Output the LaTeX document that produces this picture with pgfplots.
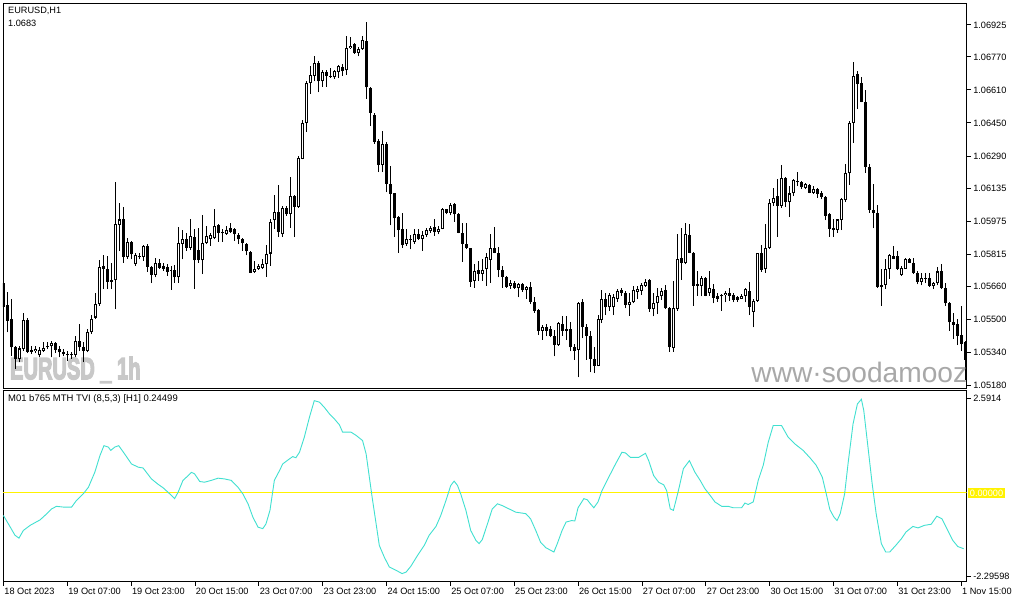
\documentclass[border=0pt]{standalone}
\usepackage{pgfplots}
\pgfplotsset{compat=1.18}
\usepackage{pgfplotstable}
\usepackage{fontspec}
\setmainfont{Liberation Sans}
\newfontfamily\wmfont{Liberation Sans}[UprightFont=*-Bold, UprightFeatures={FakeBold=5}]
\definecolor{tvi}{RGB}{64,224,208}
\definecolor{wm}{RGB}{200,200,200}
\definecolor{wmb}{RGB}{168,168,168}
\newcommand{\lbl}{\fontsize{9.2}{11}\selectfont}

\pgfplotstableread{
x o h l c
0 1.05676 1.05738 1.05483 1.05556
1 1.05567 1.05633 1.05435 1.05491
2 1.05499 1.05596 1.05322 1.05362
3 1.05362 1.05370 1.05257 1.05306
4 1.05306 1.05370 1.05290 1.05357
5 1.05354 1.05528 1.05346 1.05494
6 1.05494 1.05507 1.05335 1.05341
7 1.05351 1.05370 1.05330 1.05341
8 1.05343 1.05367 1.05335 1.05354
9 1.05325 1.05362 1.05314 1.05351
10 1.05346 1.05390 1.05341 1.05361
11 1.05362 1.05386 1.05354 1.05370
12 1.05367 1.05394 1.05314 1.05383
13 1.05383 1.05390 1.05335 1.05351
14 1.05354 1.05370 1.05314 1.05338
15 1.05338 1.05354 1.05319 1.05328
16 1.05325 1.05345 1.05298 1.05330
17 1.05325 1.05338 1.05306 1.05328
18 1.05325 1.05415 1.05314 1.05393
19 1.05393 1.05475 1.05346 1.05362
20 1.05362 1.05386 1.05290 1.05346
21 1.05346 1.05451 1.05338 1.05435
22 1.05435 1.05518 1.05427 1.05502
23 1.05507 1.05628 1.05499 1.05572
24 1.05572 1.05786 1.05564 1.05754
25 1.05757 1.05808 1.05647 1.05744
26 1.05744 1.05805 1.05644 1.05680
27 1.05688 1.05773 1.05644 1.05680
28 1.05688 1.06163 1.05547 1.05958
29 1.05957 1.06063 1.05829 1.05982
30 1.05982 1.06044 1.05773 1.05800
31 1.05800 1.05894 1.05792 1.05875
32 1.05873 1.05878 1.05789 1.05813
33 1.05768 1.05821 1.05757 1.05812
34 1.05802 1.05821 1.05789 1.05805
35 1.05802 1.05857 1.05781 1.05854
36 1.05854 1.05862 1.05728 1.05754
37 1.05752 1.05757 1.05673 1.05715
38 1.05715 1.05797 1.05701 1.05773
39 1.05773 1.05792 1.05741 1.05749
40 1.05757 1.05773 1.05733 1.05744
41 1.05752 1.05765 1.05709 1.05728
42 1.05733 1.05757 1.05641 1.05736
43 1.05738 1.05760 1.05676 1.05701
44 1.05701 1.05947 1.05676 1.05870
45 1.05865 1.05929 1.05789 1.05889
46 1.05889 1.05918 1.05830 1.05846
47 1.05846 1.05982 1.05834 1.05902
48 1.05899 1.05934 1.05647 1.05784
49 1.05834 1.05942 1.05773 1.05784
50 1.05784 1.06002 1.05717 1.05870
51 1.05870 1.05950 1.05862 1.05902
52 1.05886 1.05918 1.05854 1.05905
53 1.05891 1.06031 1.05886 1.05950
54 1.05953 1.05958 1.05873 1.05918
55 1.05921 1.05934 1.05873 1.05915
56 1.05913 1.05950 1.05907 1.05929
57 1.05942 1.05963 1.05918 1.05923
58 1.05937 1.05942 1.05878 1.05910
59 1.05905 1.05918 1.05862 1.05886
60 1.05889 1.05894 1.05830 1.05866
61 1.05865 1.05870 1.05808 1.05828
62 1.05826 1.05831 1.05722 1.05725
63 1.05728 1.05781 1.05722 1.05744
64 1.05744 1.05765 1.05738 1.05757
65 1.05749 1.05789 1.05741 1.05768
66 1.05765 1.05857 1.05705 1.05817
67 1.05817 1.05982 1.05757 1.05971
68 1.05979 1.06099 1.05937 1.06020
69 1.06020 1.06147 1.05897 1.05921
70 1.05910 1.06047 1.05899 1.06039
71 1.06039 1.06047 1.05999 1.06007
72 1.06007 1.06187 1.05942 1.06094
73 1.06094 1.06099 1.05897 1.06044
74 1.06044 1.06289 1.06039 1.06281
75 1.06276 1.06466 1.06273 1.06450
76 1.06450 1.06651 1.06405 1.06643
77 1.06643 1.06727 1.06592 1.06682
78 1.06679 1.06775 1.06651 1.06740
79 1.06742 1.06748 1.06598 1.06651
80 1.06651 1.06708 1.06624 1.06695
81 1.06695 1.06708 1.06624 1.06679
82 1.06675 1.06716 1.06667 1.06679
83 1.06670 1.06708 1.06664 1.06700
84 1.06695 1.06732 1.06667 1.06724
85 1.06720 1.06737 1.06679 1.06700
86 1.06704 1.06872 1.06683 1.06812
87 1.06812 1.06864 1.06808 1.06824
88 1.06830 1.06837 1.06785 1.06788
89 1.06788 1.06820 1.06772 1.06808
90 1.06808 1.06869 1.06804 1.06851
91 1.06849 1.06941 1.06566 1.06622
92 1.06619 1.06624 1.06434 1.06498
93 1.06490 1.06498 1.06350 1.06358
94 1.06364 1.06373 1.06211 1.06245
95 1.06245 1.06413 1.06211 1.06350
96 1.06350 1.06356 1.06115 1.06155
97 1.06152 1.06240 1.05953 1.06105
98 1.06108 1.06111 1.05899 1.05987
99 1.05994 1.05999 1.05821 1.05931
100 1.05934 1.06015 1.05846 1.05858
101 1.05862 1.05934 1.05854 1.05886
102 1.05883 1.05905 1.05837 1.05886
103 1.05875 1.05934 1.05865 1.05913
104 1.05913 1.05937 1.05883 1.05889
105 1.05889 1.05926 1.05830 1.05905
106 1.05907 1.05942 1.05899 1.05929
107 1.05926 1.05950 1.05918 1.05941
108 1.05945 1.05982 1.05902 1.05921
109 1.05923 1.05950 1.05910 1.05937
110 1.05937 1.06039 1.05934 1.06031
111 1.06031 1.06034 1.06007 1.06015
112 1.06015 1.06060 1.06002 1.06053
113 1.06057 1.06060 1.05970 1.06007
114 1.06007 1.06015 1.05915 1.05918
115 1.05918 1.05963 1.05778 1.05865
116 1.05865 1.05963 1.05841 1.05846
117 1.05842 1.05846 1.05657 1.05681
118 1.05684 1.05765 1.05652 1.05733
119 1.05736 1.05781 1.05684 1.05717
120 1.05720 1.05789 1.05684 1.05738
121 1.05741 1.05821 1.05660 1.05802
122 1.05786 1.05910 1.05676 1.05846
123 1.05846 1.05947 1.05818 1.05821
124 1.05821 1.05850 1.05701 1.05738
125 1.05738 1.05757 1.05652 1.05704
126 1.05704 1.05709 1.05652 1.05655
127 1.05660 1.05689 1.05647 1.05672
128 1.05672 1.05684 1.05647 1.05652
129 1.05652 1.05676 1.05604 1.05668
130 1.05668 1.05673 1.05631 1.05641
131 1.05641 1.05660 1.05599 1.05656
132 1.05656 1.05680 1.05572 1.05584
133 1.05584 1.05604 1.05531 1.05539
134 1.05543 1.05548 1.05422 1.05443
135 1.05443 1.05470 1.05399 1.05459
136 1.05459 1.05475 1.05415 1.05443
137 1.05451 1.05467 1.05411 1.05419
138 1.05419 1.05446 1.05319 1.05373
139 1.05373 1.05486 1.05370 1.05480
140 1.05475 1.05515 1.05419 1.05443
141 1.05443 1.05515 1.05398 1.05449
142 1.05451 1.05483 1.05343 1.05362
143 1.05362 1.05381 1.05303 1.05346
144 1.05351 1.05580 1.05217 1.05576
145 1.05580 1.05596 1.05406 1.05459
146 1.05459 1.05475 1.05303 1.05419
147 1.05419 1.05443 1.05241 1.05306
148 1.05306 1.05362 1.05238 1.05274
149 1.05274 1.05518 1.05270 1.05499
150 1.05496 1.05641 1.05480 1.05599
151 1.05599 1.05625 1.05519 1.05556
152 1.05556 1.05628 1.05539 1.05615
153 1.05556 1.05620 1.05519 1.05607
154 1.05596 1.05644 1.05583 1.05636
155 1.05639 1.05649 1.05612 1.05625
156 1.05628 1.05636 1.05551 1.05568
157 1.05568 1.05625 1.05515 1.05583
158 1.05580 1.05660 1.05576 1.05639
159 1.05633 1.05660 1.05599 1.05644
160 1.05636 1.05676 1.05615 1.05663
161 1.05660 1.05692 1.05657 1.05681
162 1.05688 1.05692 1.05535 1.05548
163 1.05548 1.05625 1.05512 1.05576
164 1.05575 1.05652 1.05523 1.05612
165 1.05609 1.05652 1.05593 1.05635
166 1.05638 1.05663 1.05548 1.05551
167 1.05551 1.05556 1.05341 1.05362
168 1.05359 1.05684 1.05341 1.05551
169 1.05548 1.05910 1.05539 1.05789
170 1.05794 1.05939 1.05689 1.05773
171 1.05770 1.05966 1.05765 1.05910
172 1.05905 1.05958 1.05818 1.05821
173 1.05821 1.05825 1.05564 1.05660
174 1.05668 1.05733 1.05612 1.05660
175 1.05660 1.05709 1.05609 1.05697
176 1.05697 1.05701 1.05609 1.05612
177 1.05628 1.05733 1.05612 1.05652
178 1.05647 1.05668 1.05576 1.05602
179 1.05599 1.05628 1.05583 1.05609
180 1.05615 1.05620 1.05539 1.05609
181 1.05615 1.05636 1.05580 1.05628
182 1.05628 1.05652 1.05588 1.05612
183 1.05618 1.05625 1.05580 1.05593
184 1.05604 1.05612 1.05583 1.05593
185 1.05599 1.05620 1.05596 1.05612
186 1.05612 1.05652 1.05580 1.05644
187 1.05634 1.05680 1.05519 1.05556
188 1.05535 1.05599 1.05459 1.05588
189 1.05588 1.05821 1.05583 1.05818
190 1.05818 1.05857 1.05728 1.05738
191 1.05741 1.05958 1.05725 1.05846
192 1.05846 1.06082 1.05838 1.06063
193 1.06063 1.06136 1.06047 1.06087
194 1.06095 1.06176 1.05899 1.06047
195 1.06047 1.06248 1.06039 1.06184
196 1.06184 1.06189 1.06044 1.06066
197 1.06066 1.06144 1.05994 1.06108
198 1.06108 1.06176 1.06095 1.06173
199 1.06163 1.06213 1.06144 1.06169
200 1.06165 1.06168 1.06132 1.06139
201 1.06136 1.06157 1.06128 1.06152
202 1.06149 1.06152 1.06108 1.06112
203 1.06112 1.06144 1.06105 1.06132
204 1.06132 1.06136 1.06087 1.06107
205 1.06108 1.06120 1.06079 1.06092
206 1.06092 1.06095 1.05979 1.05999
207 1.06007 1.06011 1.05899 1.05937
208 1.05941 1.05982 1.05899 1.05931
209 1.05931 1.05986 1.05918 1.05982
210 1.05979 1.06087 1.05931 1.06082
211 1.06076 1.06253 1.06066 1.06208
212 1.06205 1.06458 1.06149 1.06450
213 1.06450 1.06745 1.06353 1.06679
214 1.06687 1.06700 1.06517 1.06638
215 1.06643 1.06670 1.06550 1.06551
216 1.06553 1.06608 1.06208 1.06236
217 1.06236 1.06253 1.06015 1.06028
218 1.06026 1.06152 1.05939 1.06015
219 1.06015 1.06052 1.05652 1.05656
220 1.05656 1.05741 1.05564 1.05665
221 1.05665 1.05789 1.05647 1.05744
222 1.05741 1.05813 1.05696 1.05808
223 1.05805 1.05854 1.05789 1.05792
224 1.05805 1.05830 1.05738 1.05741
225 1.05713 1.05757 1.05709 1.05749
226 1.05744 1.05794 1.05741 1.05789
227 1.05789 1.05797 1.05770 1.05773
228 1.05770 1.05797 1.05717 1.05725
229 1.05725 1.05733 1.05668 1.05681
230 1.05681 1.05722 1.05663 1.05697
231 1.05696 1.05725 1.05676 1.05699
232 1.05697 1.05722 1.05656 1.05660
233 1.05660 1.05680 1.05644 1.05672
234 1.05672 1.05752 1.05663 1.05730
235 1.05730 1.05765 1.05644 1.05649
236 1.05649 1.05676 1.05564 1.05575
237 1.05575 1.05580 1.05443 1.05483
238 1.05483 1.05528 1.05403 1.05472
239 1.05475 1.05502 1.05373 1.05419
240 1.05422 1.05564 1.05346 1.05378
241 1.05386 1.05394 1.05206 1.05303
}\candles

\pgfplotsset{
  candle/.style 2 args={draw=none, mark=none, forget plot,
    error bars/.cd, y dir=plus, y explicit, error mark=none,
    error bar style={draw=#1, line width=#2}},
}

\begin{document}
\begin{tikzpicture}[x=1pt,y=1pt]
\fill[white] (0,0) rectangle (1015,605);
% watermark
\node[anchor=base west, inner sep=0pt, text=wm, font=\fontsize{30.7}{31}\wmfont, xscale=0.655] at (10,225) {EURUSD \_ 1h};

\begin{axis}[
  at={(3pt,216pt)}, anchor=south west, scale only axis,
  width=966pt, height=386pt,
  xmin=-0.1, xmax=241.4, ymin=1.05165, ymax=1.07031,
  axis line style={line width=0.9pt},
  xtick=\empty,
  ytick={1.05180,1.05340,1.05500,1.05660,1.05815,1.05975,1.06135,1.06290,1.06450,1.06610,1.06770,1.06925},
  yticklabels={1.05180,1.05340,1.05500,1.05660,1.05815,1.05975,1.06135,1.06290,1.06450,1.06610,1.06770,1.06925},
  ytick pos=right, tick align=outside, major tick length=4pt,
  tick style={line width=0.8pt, black},
  yticklabel style={font=\lbl, anchor=west, xshift=-1pt},
  /pgf/number format/assume math mode=true,
]
\addplot[candle={black}{1pt}]
  table[x=x, y=l, y error plus expr=\thisrow{h}-\thisrow{l}] {\candles};
\addplot[candle={black}{3pt}]
  table[x=x, y=c, y error plus expr={max(\thisrow{o}-\thisrow{c},0)}] {\candles};
\addplot[candle={black}{3pt}]
  table[x=x, y=o, y error plus expr={max(\thisrow{c}-\thisrow{o},0)}] {\candles};
\addplot[candle={white}{1pt}]
  table[x=x, y expr=\thisrow{o}+0.00005, y error plus expr={max(\thisrow{c}-\thisrow{o}-0.0001,0)}] {\candles};
\end{axis}

\begin{scope}
\clip (3,216) rectangle (969,602);
\node[anchor=base west, inner sep=0pt, text=wmb, font=\fontsize{28.2}{29}\selectfont] at (753,222) {www·soodamooz};
\end{scope}

\begin{axis}[
  at={(3pt,22pt)}, anchor=south west, scale only axis,
  width=966pt, height=192pt,
  xmin=-0.1, xmax=241.4, ymin=-2.43, ymax=2.81,
  axis line style={line width=0.9pt},
  xtick={0,16,...,240},
  xticklabels={18 Oct 2023,19 Oct 07:00,19 Oct 23:00,20 Oct 15:00,23 Oct 07:00,23 Oct 23:00,24 Oct 15:00,25 Oct 07:00,25 Oct 23:00,26 Oct 15:00,27 Oct 07:00,27 Oct 23:00,30 Oct 15:00,31 Oct 07:00,31 Oct 23:00,1 Nov 15:00},
  xtick pos=bottom,
  ytick={-2.29598,2.5914}, yticklabels={-2.29598,2.5914},
  ytick pos=right, tick align=outside, major tick length=4pt,
  tick style={line width=0.8pt, black},
  yticklabel style={font=\lbl, anchor=west, xshift=-1pt},
  xticklabel style={font=\lbl, anchor=north west, xshift=-2.5pt, yshift=1pt},
  /pgf/number format/assume math mode=true,
]
\addplot[yellow, line width=1pt] coordinates {(-0.1,0) (241.4,0)};
\addplot[tvi, line width=0.9pt] coordinates {
(0,-0.62) (1.25,-0.85) (2.9,-1.16) (3.9,-1.24) (5,-1.03) (6.7,-0.89) (9.2,-0.74) (10.4,-0.62)
(12.1,-0.44) (13.3,-0.37) (15,-0.39) (17.1,-0.39) (18.3,-0.21) (20,-0.03) (21.3,0.15) (22.9,0.56)
(24.2,1.02) (25.2,1.29) (26.3,1.25) (26.9,1.16) (27.9,1.25) (28.9,1.29) (30.4,1.06) (32.1,0.79)
(33.8,0.70) (35,0.68) (37.1,0.38) (38.8,0.23) (40,0.14) (41.7,-0.03) (42.9,-0.16) (43.8,0.02)
(45,0.34) (46.3,0.47) (47.1,0.56) (47.9,0.52) (49.2,0.31) (50.4,0.29) (52.1,0.34) (53.8,0.40)
(55.4,0.38) (57.1,0.34) (58.8,0.15) (60,-0.03) (61.3,-0.30) (62.5,-0.66) (63.8,-0.94) (65,-0.98)
(65.8,-0.85) (66.8,-0.48) (67.9,0.34) (69.2,0.61) (70,0.79) (71.7,0.93) (72.5,0.99) (73.3,0.96)
(74.2,1.11) (75.4,1.52) (76.7,2.07) (77.9,2.52) (79.2,2.48) (80.4,2.34) (81.7,2.16) (82.95,2.02)
(84.2,1.86) (85,1.66) (87.1,1.66) (88.4,1.57) (90,1.43) (90.9,1.06) (91.7,0.43) (92.4,-0.12)
(93.4,-0.85) (94.2,-1.44) (95.45,-1.76) (96.7,-2.03) (98.4,-2.12) (99.9,-2.21) (100.9,-2.17) (102.1,-2.01)
(103.8,-1.71) (105.45,-1.44) (106.7,-1.16) (108.4,-0.92) (109.6,-0.62) (110.9,-0.21) (112.1,0.20) (112.95,0.32)
(113.8,0.20) (114.6,-0.03) (115.9,-0.48) (117.1,-1.03) (118.4,-1.30) (119.2,-1.39) (120,-1.28) (121.3,-0.85)
(122.5,-0.44) (123.8,-0.30) (125,-0.35) (126.7,-0.44) (128.4,-0.53) (130.9,-0.57) (132.1,-0.71) (133.4,-1.03)
(134.6,-1.35) (135.9,-1.50) (137.1,-1.57) (137.95,-1.62) (138.8,-1.39) (140,-1.03) (141,-0.80) (142.4,-0.76)
(143.2,-0.77) (144,-0.41) (145.45,-0.16) (146.3,-0.19) (147.1,-0.30) (147.95,-0.41) (149,-0.25) (150,0.06)
(151.7,0.43) (153.4,0.79) (155,1.11) (155.9,1.09) (157.1,0.97) (159.2,0.97) (160.9,1.08) (161.7,0.88)
(162.95,0.47) (164.2,0.29) (165.45,0.22) (166.2,0.06) (167.1,-0.44) (167.9,-0.48) (169.15,0.06) (170.4,0.66)
(171.9,0.88) (173.3,0.56) (174.6,0.34) (175.8,0.11) (177.1,-0.07) (178.3,-0.25) (180,-0.37) (181.65,-0.37)
(182.9,-0.41) (185,-0.41) (185.8,-0.28) (186.65,-0.32) (187.9,-0.25) (189.15,0.34) (190.4,0.75) (191.65,1.38)
(192.9,1.84) (195,1.84) (196.65,1.52) (198.3,1.34) (200.4,1.16) (202.1,0.96) (203.7,0.75) (205.2,0.43)
(206.2,-0.03) (207.1,-0.46) (208.1,-0.66) (208.9,-0.76) (209.7,-0.57) (210.8,-0.03) (211.65,0.79) (212.9,1.88)
(214,2.43) (215,2.56) (215.6,2.25) (216.65,1.25) (217.7,0.25) (218.7,-0.57) (220,-1.39) (221.1,-1.62)
(222.1,-1.62) (223.6,-1.44) (225,-1.26) (226.2,-1.07) (227.9,-0.92) (229.2,-0.96) (230.8,-0.89) (232.5,-0.86)
(233.9,-0.64) (235.2,-0.71) (236.65,-1.03) (237.9,-1.30) (239.15,-1.47) (240.65,-1.53)
};
\end{axis}

% texts
\node[anchor=west, inner sep=0pt, font=\lbl] at (8,594) {EURUSD,H1};
\node[anchor=west, inner sep=0pt, font=\lbl] at (8,581.5) {1.0683};
\node[anchor=west, inner sep=0pt, font=\fontsize{9.5}{11}\selectfont] at (8,205) {M01 b765 MTH TVI (8,5,3) [H1] 0.24499};
\node[anchor=west, fill=yellow, text=white, inner xsep=2pt, inner ysep=1.5pt, font=\lbl] at (970,111) {0.00000};
\end{tikzpicture}
\end{document}
